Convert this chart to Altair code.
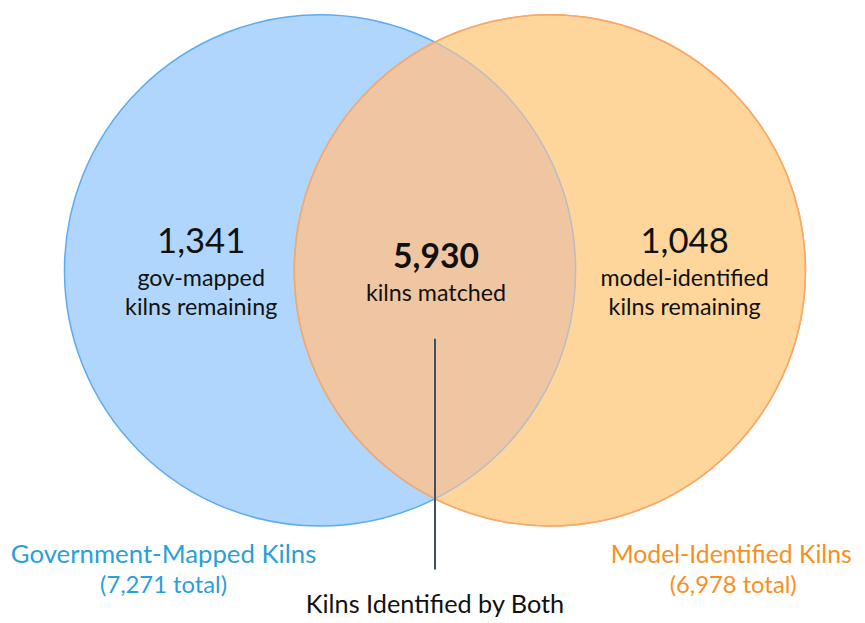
import math
import altair as alt
import pandas as pd

# ---- data ----
set_names = ["Government-Mapped Kilns", "Model-Identified Kilns"]
set_totals = [7271, 6978]
only_counts = [1341, 1048]
only_desc = [["gov-mapped", "kilns remaining"], ["model-identified", "kilns remaining"]]
both_count = 5930
both_desc = "kilns matched"
both_label = "Kilns Identified by Both"

# ---- layout (pixel coordinate system) ----
W, H = 857, 614
R = 258
cx = [323, 555]
cy = 270
mid = (cx[0] + cx[1]) / 2
FONT = "Lato"

blue_fill, blue_stroke = "#B0D6FE", "#5AABF3"
orange_fill, orange_stroke = "#FED69C", "#F8A968"
lens_fill, lens_stroke = "#F0C6A2", "#B9BDC2"
blue_text, orange_text = "#2A9FD8", "#F7901E"

X = alt.X("x:Q", scale=alt.Scale(domain=[8, 8 + W], nice=False, zero=False), axis=None)
Y = alt.Y("y:Q", scale=alt.Scale(domain=[8, 8 + H], nice=False, zero=False, reverse=True), axis=None)

size = (2 * R) ** 2

def circle(i, fill, stroke, filled=True):
    df = pd.DataFrame({"x": [cx[i]], "y": [cy]})
    kw = dict(shape="circle", size=size, stroke=stroke, strokeWidth=1.5, opacity=1, strokeOpacity=1)
    if filled:
        kw.update(filled=True, fill=fill, fillOpacity=1)
    else:
        kw.update(filled=False, fillOpacity=0)
    return alt.Chart(df).mark_point(**kw).encode(x=X, y=Y)

h = (cx[1] - cx[0]) / 2 / R
yi = math.sqrt(1 - h * h)
lens_path = f"M0,{-yi:.4f} A1,1 0 0,1 0,{yi:.4f} A1,1 0 0,1 0,{-yi:.4f} Z"
lens = alt.Chart(pd.DataFrame({"x": [mid], "y": [cy]})).mark_point(
    shape=lens_path, size=size, filled=True, fill=lens_fill, fillOpacity=1,
    stroke=lens_stroke, strokeWidth=1.5, opacity=1, strokeOpacity=1
).encode(x=X, y=Y)

rule = alt.Chart(pd.DataFrame({"x": [mid], "y": [339], "y2": [572]})).mark_rule(
    color="#3B4C63", strokeWidth=2
).encode(x=X, y=Y, y2="y2:Q")

def text_layer(rows, fontSize, color="#111111", weight="normal"):
    df = pd.DataFrame(rows, columns=["x", "y", "t"])
    return alt.Chart(df).mark_text(
        font=FONT, fontSize=fontSize, color=color, fontWeight=weight,
        align="center", baseline="alphabetic"
    ).encode(x=X, y=Y, text="t:N")

label_x = [203, 691]
bottom_x = [165, 738]

numbers = text_layer([(label_x[i], 252, f"{only_counts[i]:,}") for i in range(2)], 35)
both_num = text_layer([(mid + 1, 268, f"{both_count:,}")], 34, weight="bold")
desc = text_layer(
    [(label_x[i], 286 + 29 * j, only_desc[i][j]) for i in range(2) for j in range(2)]
    + [(mid + 1, 301, both_desc)], 23.5)
gov_lbl = text_layer([(bottom_x[0], 565, set_names[0])], 26, blue_text)
gov_tot = text_layer([(bottom_x[0], 596, f"({set_totals[0]:,} total)")], 24, blue_text)
mod_lbl = text_layer([(bottom_x[1], 565, set_names[1])], 25, orange_text)
mod_tot = text_layer([(bottom_x[1] + 2, 596, f"({set_totals[1]:,} total)")], 24, orange_text)
both_lbl = text_layer([(mid, 616, both_label)], 25.5)

chart = alt.layer(
    circle(0, blue_fill, blue_stroke),
    circle(1, orange_fill, orange_stroke),
    lens,
    circle(1, None, orange_stroke, filled=False),
    rule, numbers, both_num, desc, gov_lbl, gov_tot, mod_lbl, mod_tot, both_lbl,
).properties(
    width=W, height=H, padding=0, autosize=alt.AutoSizeParams(type="none")
).configure_view(stroke=None)

chart.save("out.html", embed_options={"renderer": "svg", "actions": False})
